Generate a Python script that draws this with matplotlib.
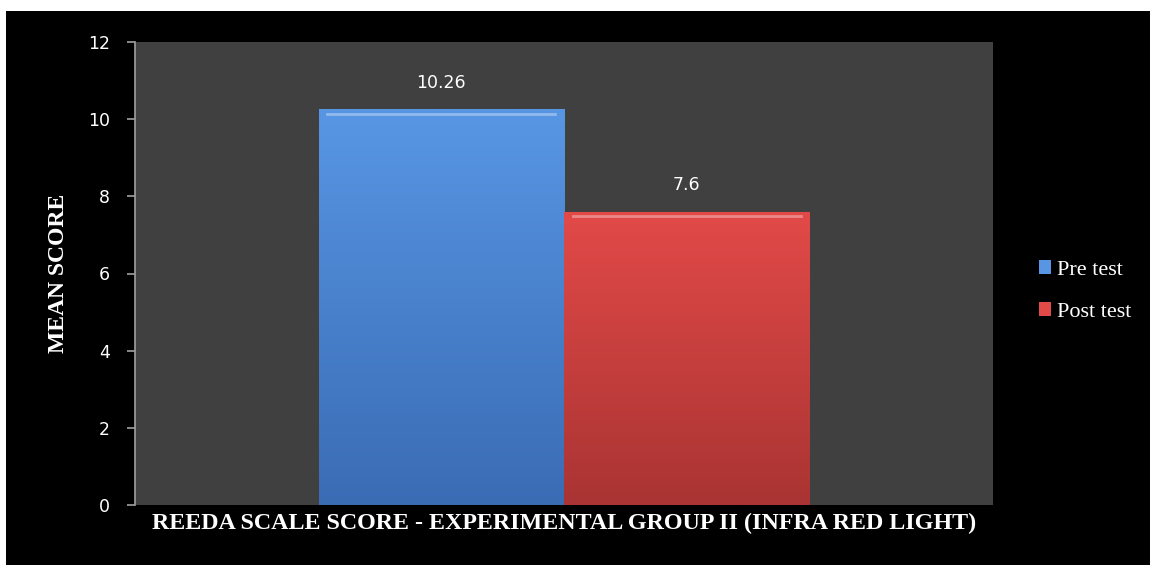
import matplotlib

matplotlib.use("Agg")
import matplotlib.pyplot as plt
import numpy as np
from matplotlib.patches import Rectangle

categories = ["REEDA SCALE SCORE - EXPERIMENTAL GROUP II (INFRA RED LIGHT)"]
series = ["Pre test", "Post test"]
values = [10.26, 7.6]
value_labels = ["10.26", "7.6"]
yticks = [0, 2, 4, 6, 8, 10, 12]

# top/bottom colours for the gradient fills
shades = [("#5896e4", "#3a6cb4"), ("#e24a48", "#a93433")]

fig = plt.figure(figsize=(11.5, 5.65), dpi=100, facecolor="white")
fig.patches.append(Rectangle((6 / 1150, 0), 1, (565 - 11) / 565, transform=fig.transFigure,
                             facecolor="black", edgecolor="none", zorder=-10))
ax = fig.add_axes([135 / 1150, 60 / 565, 858 / 1150, 463 / 565])
ax.set_facecolor("#404040")

w = 0.286
offsets = [-w / 2, w / 2]
for i, (name, v) in enumerate(zip(series, values)):
    bars = ax.bar(offsets[i], v, w, color=shades[i][0], label=name, zorder=2)
    patch = bars[0]
    # vertical gradient clipped to the bar
    grad = np.linspace(0, 1, 256).reshape(-1, 1)
    top = np.array(matplotlib.colors.to_rgb(shades[i][0]))
    bot = np.array(matplotlib.colors.to_rgb(shades[i][1]))
    img = top + (bot - top) * grad[:, :, None]
    x0 = offsets[i] - w / 2
    im = ax.imshow(img, extent=[x0, x0 + w, 0, v], aspect="auto", zorder=3, origin="upper")
    im.set_clip_path(patch)
    # bevel highlight along the top
    ax.plot([x0 + 0.01, x0 + w - 0.01], [v - 0.12, v - 0.12], color="white", alpha=0.35, lw=2, zorder=4)
    ax.text(offsets[i], v + 0.45, value_labels[i], ha="center", va="bottom", color="white",
            fontsize=12.5, family="DejaVu Sans", zorder=5)

ax.set_xlim(-0.5, 0.5)
ax.set_ylim(0, 12)
ax.set_yticks(yticks)
ax.set_yticklabels([str(t) for t in yticks], color="white", fontsize=12.5)
ax.set_xticks([])
ax.tick_params(axis="y", direction="out", length=6, color="#a0a0a0", width=1.2, pad=12)
for s in ["top", "right", "bottom"]:
    ax.spines[s].set_visible(False)
ax.spines["left"].set_color("#a0a0a0")
ax.spines["left"].set_linewidth(1.2)

ax.set_xlabel(categories[0], color="white", fontsize=17.3, family="Liberation Serif",
              fontweight="bold", labelpad=6)
ax.set_ylabel("MEAN SCORE", color="white", fontsize=17, family="Liberation Serif",
              fontweight="bold", labelpad=14)

leg = ax.legend(loc="center left", bbox_to_anchor=(1.03, 0.462), frameon=False,
                prop={"family": "Liberation Serif", "size": 16}, handlelength=0.55,
                handleheight=0.55, handletextpad=0.25, labelspacing=1.0)
for t in leg.get_texts():
    t.set_color("white")

fig.savefig("out.png", dpi=100, facecolor=fig.get_facecolor())
